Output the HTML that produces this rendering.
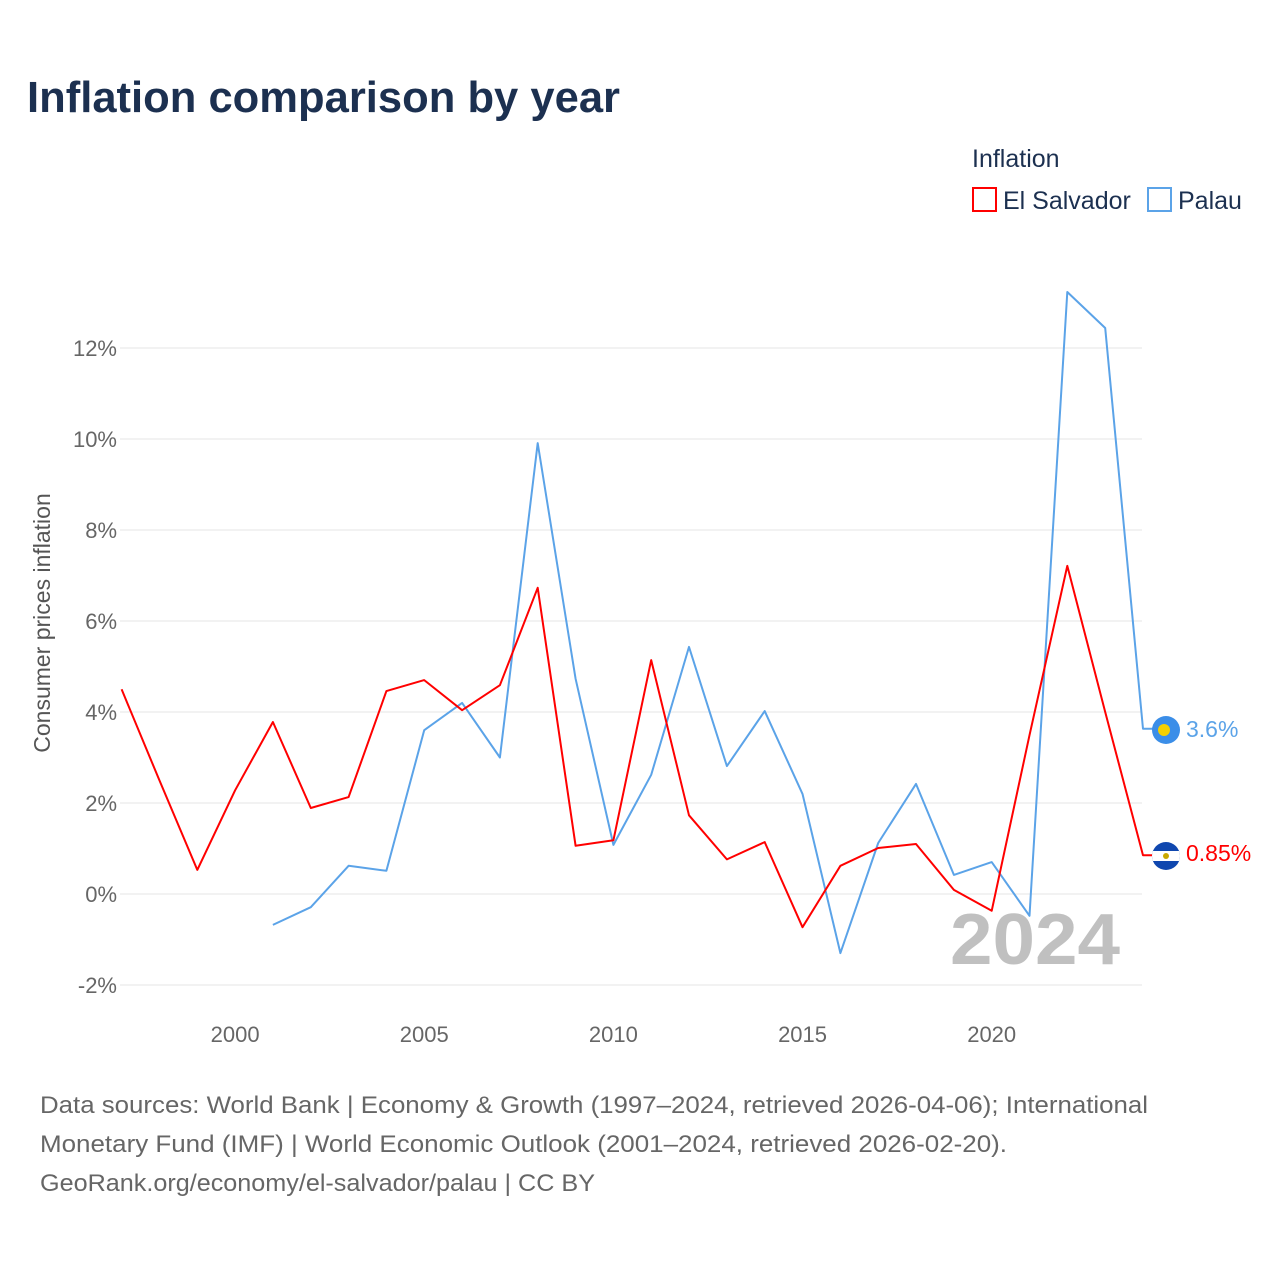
<!DOCTYPE html>
<html><head><meta charset="utf-8"><style>
body{margin:0;background:#fff;font-family:"Liberation Sans",sans-serif}
svg text{font-family:"Liberation Sans",sans-serif}
</style></head><body>
<svg width="1280" height="1280" viewBox="0 0 1280 1280">
<text x="27" y="112" font-size="44" font-weight="bold" fill="#1c3050" textLength="593" lengthAdjust="spacingAndGlyphs">Inflation comparison by year</text>
<text x="972" y="167" font-size="25" fill="#1c3050">Inflation</text>
<g><rect x="973" y="188" width="23" height="23" fill="none" stroke="#f00" stroke-width="2"/><text x="1003" y="209" font-size="25" fill="#1c3050">El Salvador</text></g>
<g><rect x="1148" y="188" width="23" height="23" fill="none" stroke="#5ba3e8" stroke-width="2"/><text x="1178" y="209" font-size="25" fill="#1c3050">Palau</text></g>
<g id="grid"></g><g id="yt"></g><g id="xt"></g>
<text transform="translate(50,623) rotate(-90)" text-anchor="middle" font-size="23" fill="#555">Consumer prices inflation</text>
<text x="1120" y="964" text-anchor="end" font-size="72" font-weight="bold" fill="#c0c0c0" textLength="170" lengthAdjust="spacingAndGlyphs">2024</text>
<g id="lines"></g>
<g><circle cx="1166" cy="730" r="14" fill="#3b8ee8"/><circle cx="1164" cy="730" r="6" fill="#f5d000"/></g>
<text x="1186" y="737" font-size="23" fill="#5ba3e8">3.6%</text>
<g><clipPath id="fc"><circle cx="1166" cy="856" r="14"/></clipPath><g clip-path="url(#fc)"><rect x="1150" y="840" width="32" height="32" fill="#0f47af"/><rect x="1150" y="851" width="32" height="10" fill="#fff"/><circle cx="1166" cy="856" r="3" fill="#c9a800"/></g></g>
<text x="1186" y="861" font-size="23" fill="#f00">0.85%</text>
<g font-size="24" fill="#666">
<text x="40" y="1113" textLength="1108" lengthAdjust="spacingAndGlyphs">Data sources: World Bank | Economy &amp; Growth (1997–2024, retrieved 2026-04-06); International</text>
<text x="40" y="1152" textLength="967" lengthAdjust="spacingAndGlyphs">Monetary Fund (IMF) | World Economic Outlook (2001–2024, retrieved 2026-02-20).</text>
<text x="40" y="1191" textLength="555" lengthAdjust="spacingAndGlyphs">GeoRank.org/economy/el-salvador/palau | CC BY</text>
</g>
</svg>
<script>
const yTicks=[-2,0,2,4,6,8,10,12];
const xTicks=[2000,2005,2010,2015,2020];
const svYears=[1997,1998,1999,2000,2001,2002,2003,2004,2005,2006,2007,2008,2009,2010,2011,2012,2013,2014,2015,2016,2017,2018,2019,2020,2021,2022,2023,2024];
const svValues=[4.5,2.5,0.53,2.28,3.78,1.89,2.13,4.46,4.7,4.04,4.59,6.73,1.06,1.18,5.14,1.73,0.76,1.14,-0.73,0.62,1.01,1.1,0.09,-0.37,3.49,7.21,4.0,0.85];
const plYears=[2001,2002,2003,2004,2005,2006,2007,2008,2009,2010,2011,2012,2013,2014,2015,2016,2017,2018,2019,2020,2021,2022,2023,2024];
const plValues=[-0.68,-0.29,0.62,0.51,3.6,4.2,3.0,9.91,4.73,1.08,2.62,5.43,2.81,4.02,2.2,-1.3,1.12,2.42,0.42,0.7,-0.48,13.23,12.44,3.63];
const X=y=>121.6+(y-1997)*37.83, Y=v=>894-v*45.5;
const NS="http://www.w3.org/2000/svg";
function mk(t,a,p){const e=document.createElementNS(NS,t);for(const k in a)e.setAttribute(k,a[k]);p.appendChild(e);return e;}
const grid=document.getElementById('grid'),yt=document.getElementById('yt'),xt=document.getElementById('xt'),lines=document.getElementById('lines');
yTicks.forEach(v=>{
 const l=mk('line',{x1:120,x2:1142,y1:Y(v),y2:Y(v),stroke:'#e6e6e6','stroke-width':1},grid);
 
 
 const t=mk('text',{x:117,y:Y(v)+8,'text-anchor':'end','font-size':22,fill:'#666'},yt);
 t.textContent=v+'%';
 
 
});
xTicks.forEach(v=>{
 const t=mk('text',{x:X(v),y:1042,'text-anchor':'middle','font-size':22,fill:'#666'},xt);
 t.textContent=v;
 
 
});
function line(ys,vs,c,name){
 let d=ys.map((y,i)=>(i?'L':'M')+X(y).toFixed(1)+' '+Y(vs[i]).toFixed(1)).join(' ');
 d+=' L1155 '+Y(vs[vs.length-1]).toFixed(1);
 const p=mk('path',{d:d,fill:'none',stroke:c,'stroke-width':2,'stroke-linejoin':'round'},lines);
 
 
}
line(plYears,plValues,'#5ba3e8','palau-line');
line(svYears,svValues,'#f00','el-salvador-line');
</script>
</body></html>
